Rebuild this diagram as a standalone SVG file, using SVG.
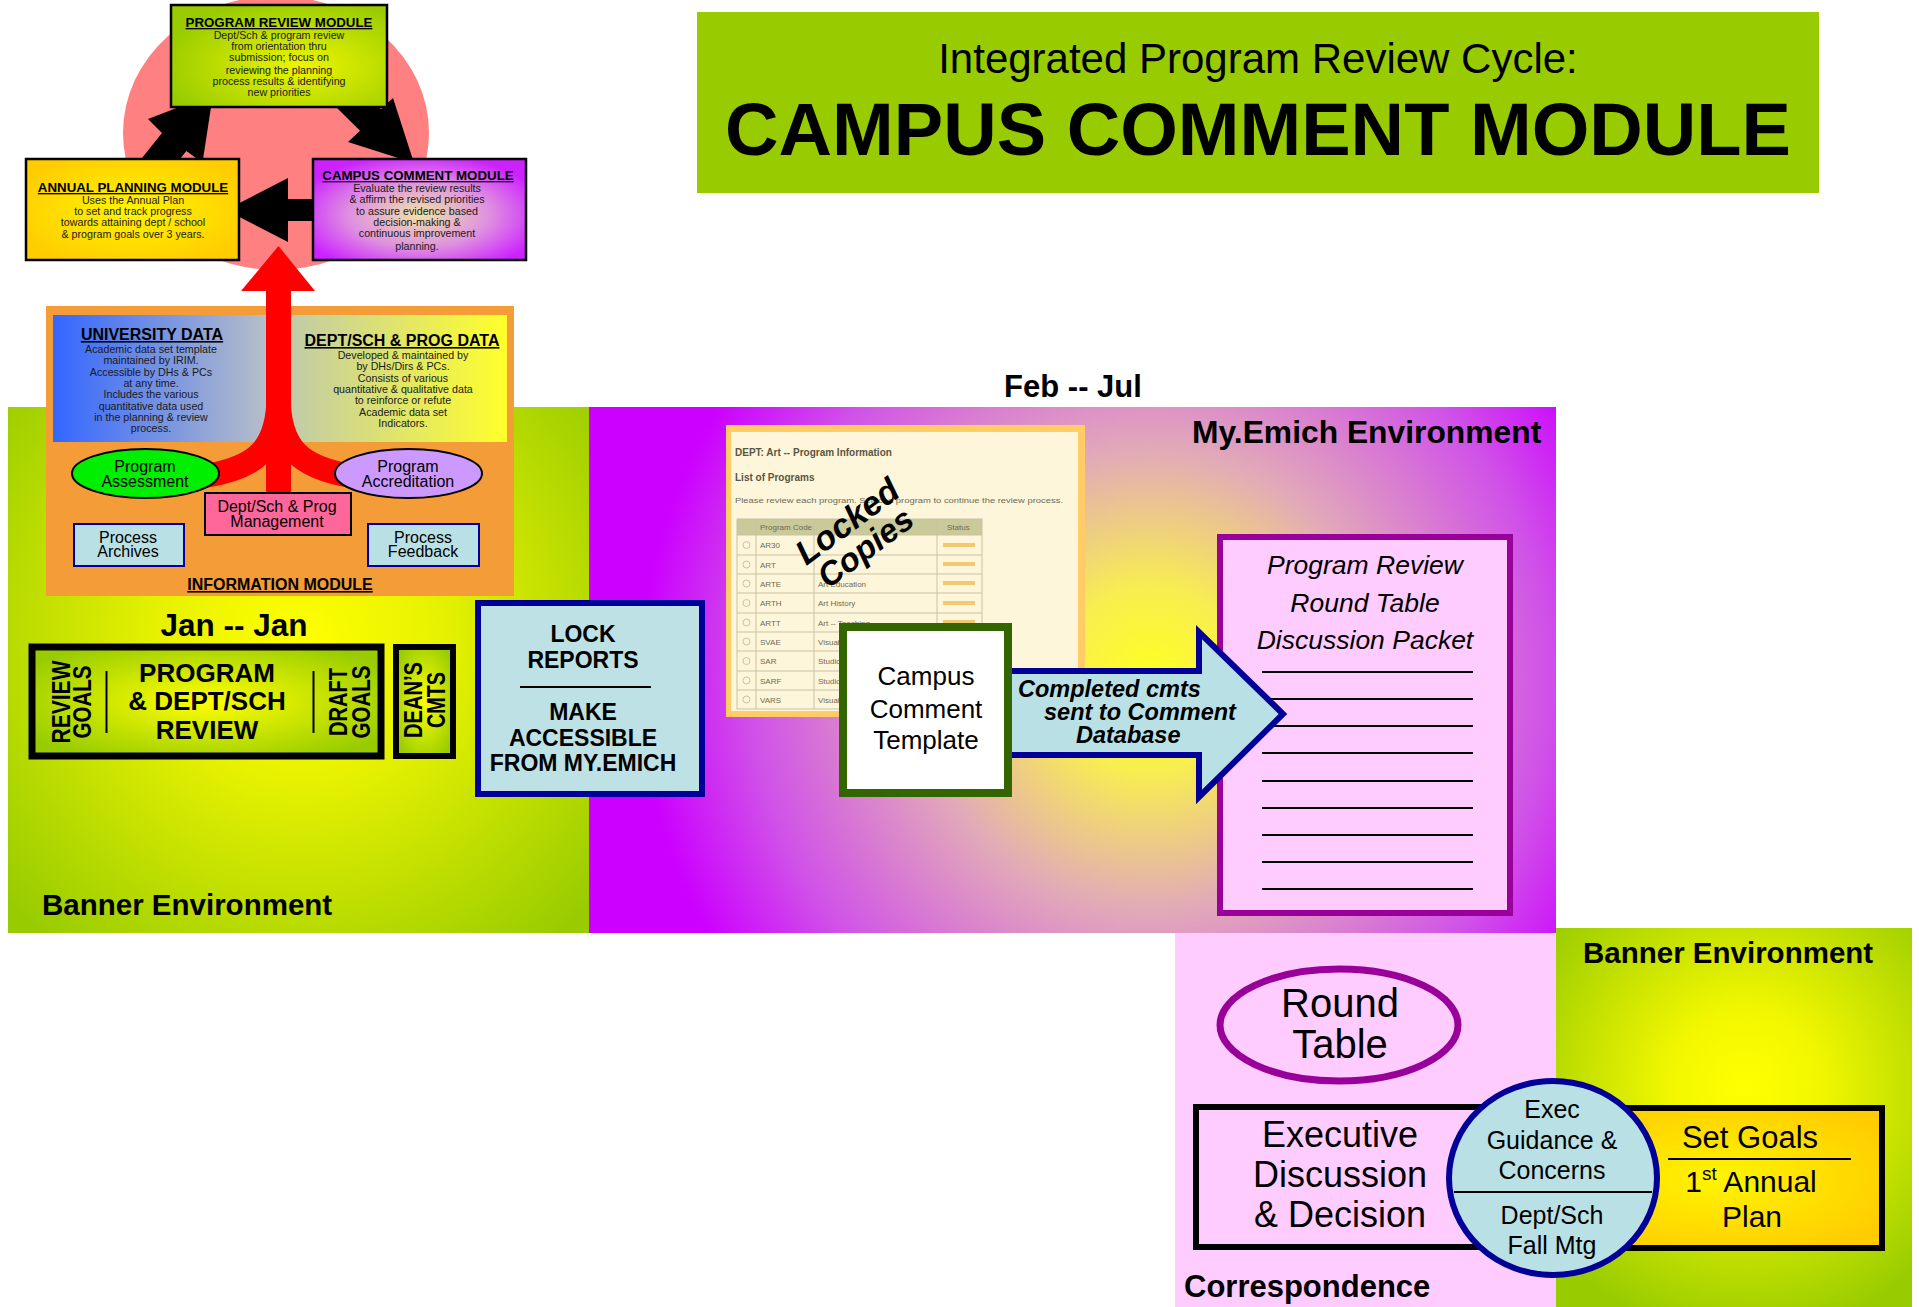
<svg xmlns="http://www.w3.org/2000/svg" width="1919" height="1307" viewBox="0 0 1919 1307">
<style>
  text { font-family: "Liberation Sans", Arial, Helvetica, sans-serif; fill: #000; }
  .b { font-weight: bold; }
  .i { font-style: italic; }
  .c { text-anchor: middle; }
  .mt { font-size: 13.3px; font-weight: bold; text-decoration: underline; text-anchor: middle; }
  .mb { font-size: 10.7px; text-anchor: middle; fill: #1a1a1a; }
  .env { font-size: 29.5px; font-weight: bold; }
  .mod { stroke: #000; stroke-width: 2.5; }
  .cyanbox { fill: #B9E0E4; stroke: #000099; }
  .rule { stroke: #000; stroke-width: 2; }
  .ib { font-size: 16px; text-anchor: middle; }
  .dt { font-size: 16px; font-weight: bold; text-decoration: underline; text-anchor: middle; }
  .big { font-weight: bold; font-size: 26px; text-anchor: middle; }
  .vt { font-weight: bold; font-size: 26px; text-anchor: middle; }
  .lock { font-weight: bold; font-size: 23px; text-anchor: middle; }
  .ss { fill: #6f6a52; font-size: 8px; }
  .ssb { fill: #5a553f; font-size: 10px; font-weight: bold; }
  .grid { stroke: #C9C2A2; stroke-width: 1; fill: none; }
  .blk { fill: #000; }
  .red { fill: #FF0000; }
  .redb { fill: none; stroke: #FF0000; stroke-width: 24; }
  .pk { font-size: 26.5px; font-style: italic; text-anchor: middle; }
  .pkl { stroke: #000; stroke-width: 2; }
  .ex { font-size: 36px; text-anchor: middle; }
  .ec { font-size: 25px; text-anchor: middle; }
  .sg { font-size: 31px; text-anchor: middle; }
  .sg2 { font-size: 30px; text-anchor: middle; }
  .cm { font-size: 23.5px; font-weight: bold; font-style: italic; }
</style>
<defs>
  <radialGradient id="gBannerL" gradientUnits="userSpaceOnUse" cx="300" cy="640" r="390">
    <stop offset="0" stop-color="#FFFF00"/>
    <stop offset="0.35" stop-color="#E8F200"/>
    <stop offset="1" stop-color="#99CC00"/>
  </radialGradient>
  <radialGradient id="gPurple" gradientUnits="userSpaceOnUse" cx="1150" cy="680" r="510">
    <stop offset="0" stop-color="#FFFF20"/>
    <stop offset="0.18" stop-color="#F8EE50"/>
    <stop offset="0.45" stop-color="#E2AAB8"/>
    <stop offset="0.78" stop-color="#D052E8"/>
    <stop offset="1" stop-color="#CC00FF"/>
  </radialGradient>
  <radialGradient id="gBannerR" gradientUnits="userSpaceOnUse" cx="1745" cy="1085" r="250">
    <stop offset="0" stop-color="#FFFF00"/>
    <stop offset="0.3" stop-color="#F2F700"/>
    <stop offset="1" stop-color="#99CC00"/>
  </radialGradient>
  <radialGradient id="gGreenBox" cx="0.5" cy="0.5" r="0.6">
    <stop offset="0" stop-color="#FFFF00"/>
    <stop offset="1" stop-color="#99CC00"/>
  </radialGradient>
  <radialGradient id="gPRBox" cx="0.6" cy="0.6" r="0.65">
    <stop offset="0" stop-color="#EEF500"/>
    <stop offset="1" stop-color="#99CC00"/>
  </radialGradient>
  <radialGradient id="gGold" cx="0.5" cy="0.5" r="0.6">
    <stop offset="0" stop-color="#FFF500"/>
    <stop offset="1" stop-color="#FFCC00"/>
  </radialGradient>
  <radialGradient id="gPurpleBox" cx="0.5" cy="0.55" r="0.6">
    <stop offset="0" stop-color="#F0E2A8"/>
    <stop offset="0.55" stop-color="#DE90E0"/>
    <stop offset="1" stop-color="#CC22FF"/>
  </radialGradient>
  <linearGradient id="gUni" x1="0" y1="0" x2="1" y2="0">
    <stop offset="0" stop-color="#3366FF"/>
    <stop offset="1" stop-color="#B6BEC8"/>
  </linearGradient>
  <linearGradient id="gDept" x1="0" y1="0" x2="1" y2="0">
    <stop offset="0" stop-color="#C2CBA8"/>
    <stop offset="1" stop-color="#FFFF2A"/>
  </linearGradient>
</defs>

<rect width="1919" height="1307" fill="#FFFFFF"/>

<!-- Backgrounds and environments -->
<g id="banner-env-left">
  <rect x="8" y="407" width="581" height="526" fill="url(#gBannerL)"/>
  <text class="env" x="42" y="915">Banner Environment</text>
  <text class="b c" x="234" y="636" font-size="31.5">Jan -- Jan</text>
</g>
<g id="myemich-env">
  <rect x="589" y="407" width="967" height="526" fill="url(#gPurple)"/>
  <text class="b" x="1192" y="443" font-size="31.8">My.Emich Environment</text>
  <text class="b c" x="1073" y="397" font-size="31">Feb -- Jul</text>
</g>
<g id="correspondence-env">
  <rect x="1175" y="933" width="381" height="374" fill="#FFCCFF"/>
  <text class="b" x="1184" y="1297" font-size="31">Correspondence</text>
</g>
<g id="banner-env-right">
  <rect x="1556" y="928" width="356" height="379" fill="url(#gBannerR)"/>
  <text class="env" x="1583" y="963">Banner Environment</text>
</g>

<g id="title">
  <rect x="697" y="12" width="1122" height="181" fill="#99CC00"/>
  <text class="c" x="1258" y="73" font-size="42">Integrated Program Review Cycle:</text>
  <text class="b c" x="1258" y="155" font-size="74" textLength="1066" lengthAdjust="spacingAndGlyphs">CAMPUS COMMENT MODULE</text>
</g>

<g id="cycle-circle">
  <ellipse cx="276" cy="133" rx="153" ry="137" fill="#FF8080"/>
</g>

<!-- Information module container -->
<g id="information-module">
  <rect x="46" y="306" width="468" height="290" fill="#F39C38"/>
  <text class="dt" x="280" y="590">INFORMATION MODULE</text>
</g>
<g id="university-data">
  <rect x="53" y="315" width="213" height="127" fill="url(#gUni)"/>
  <text class="dt" x="152" y="340">UNIVERSITY DATA</text>
  <text class="mb" x="151" y="352.5">Academic data set template</text>
  <text class="mb" x="151" y="364">maintained by IRIM.</text>
  <text class="mb" x="151" y="375.5">Accessible by  DHs &amp; PCs</text>
  <text class="mb" x="151" y="386.5">at any time.</text>
  <text class="mb" x="151" y="398">Includes the various</text>
  <text class="mb" x="151" y="409.5">quantitative data used</text>
  <text class="mb" x="151" y="420.5">in the planning &amp; review</text>
  <text class="mb" x="151" y="432">process.</text>
</g>
<g id="dept-prog-data">
  <rect x="290" y="315" width="217" height="127" fill="url(#gDept)"/>
  <text class="dt" x="402" y="346">DEPT/SCH &amp; PROG DATA</text>
  <text class="mb" x="403" y="359">Developed &amp; maintained by</text>
  <text class="mb" x="403" y="370">by DHs/Dirs &amp; PCs.</text>
  <text class="mb" x="403" y="382">Consists of various</text>
  <text class="mb" x="403" y="393">quantitative &amp; qualitative data</text>
  <text class="mb" x="403" y="404">to reinforce or refute</text>
  <text class="mb" x="403" y="416">Academic data set</text>
  <text class="mb" x="403" y="427">Indicators.</text>
</g>

<!-- Locked copies screenshot -->
<g id="locked-copies">
  <rect x="726" y="425" width="359" height="292" fill="#FFCC66"/>
  <rect x="731" y="432" width="347" height="279" fill="#FDF6DA"/>
  <text class="ssb" x="735" y="456">DEPT: Art -- Program Information</text>
  <text class="ssb" x="735" y="481">List of Programs</text>
  <text class="ss" x="735" y="503" textLength="328" lengthAdjust="spacingAndGlyphs">Please review each program. Select a program to continue the review process.</text>
  <rect x="737" y="519" width="245" height="16" fill="#C9C99A"/>
  <text class="ss" x="760" y="530">Program Code</text>
  <text class="ss" x="947" y="530">Status</text>
  <g class="grid">
    <rect x="737" y="519" width="245" height="190"/>
    <path d="M737 535H982M737 555H982M737 574H982M737 593H982M737 613H982M737 632H982M737 651H982M737 671H982M737 690H982"/>
    <path d="M756 519V709M814 519V709M937 519V709"/>
    <circle cx="746.5" cy="545" r="3.5"/><circle cx="746.5" cy="564.5" r="3.5"/><circle cx="746.5" cy="583.5" r="3.5"/>
    <circle cx="746.5" cy="603" r="3.5"/><circle cx="746.5" cy="622.5" r="3.5"/><circle cx="746.5" cy="641.5" r="3.5"/>
    <circle cx="746.5" cy="661" r="3.5"/><circle cx="746.5" cy="680.5" r="3.5"/><circle cx="746.5" cy="699.5" r="3.5"/>
  </g>
  <g fill="#F2C870">
    <rect x="943" y="543" width="32" height="4"/><rect x="943" y="562" width="32" height="4"/>
    <rect x="943" y="581" width="32" height="4"/><rect x="943" y="601" width="32" height="4"/>
    <rect x="943" y="620" width="32" height="4"/>
  </g>
  <text class="ss" x="760" y="548">AR30</text>
  <text class="ss" x="760" y="567.5">ART</text>
  <text class="ss" x="760" y="586.5">ARTE</text>
  <text class="ss" x="760" y="606">ARTH</text>
  <text class="ss" x="760" y="625.5">ARTT</text>
  <text class="ss" x="760" y="644.5">SVAE</text>
  <text class="ss" x="760" y="664">SAR</text>
  <text class="ss" x="760" y="683.5">SARF</text>
  <text class="ss" x="760" y="702.5">VARS</text>
  <text class="ss" x="818" y="586.5">Art Education</text>
  <text class="ss" x="818" y="606">Art History</text>
  <text class="ss" x="818" y="625.5">Art -- Teaching</text>
  <text class="ss" x="818" y="644.5">Visual</text>
  <text class="ss" x="818" y="664">Studio</text>
  <text class="ss" x="818" y="683.5">Studio</text>
  <text class="ss" x="818" y="702.5">Visual</text>
  <text class="b i c" font-size="34" transform="translate(847,521) rotate(-36.5)" y="12">Locked</text>
  <text class="b i c" font-size="33" transform="translate(865,547) rotate(-36.5)" y="12">Copies</text>
</g>

<!-- Discussion packet -->
<g id="discussion-packet">
  <rect x="1220" y="537" width="290" height="376" fill="#FFCCFF" stroke="#990099" stroke-width="6"/>
  <text class="pk" x="1365" y="574">Program Review</text>
  <text class="pk" x="1365" y="612">Round Table</text>
  <text class="pk" x="1365" y="649">Discussion Packet</text>
  <path class="pkl" d="M1262 672H1473M1262 699H1473M1262 726H1473M1262 753H1473M1262 781H1473M1262 808H1473M1262 835H1473M1262 862H1473M1262 889H1473"/>
</g>

<!-- Connectors -->
<g id="connectors">
  <polygon id="arrow-annual-to-review" class="blk" points="213,94 202.5,162.7 186.4,150.9 149.3,196.8 125.9,178 162,133 148,119"/>
  <polygon id="arrow-review-to-campus" class="blk" points="414,163 393,98 381,109.3 332.1,60.9 311,82.3 360,130.7 348,142"/>
  <polygon id="arrow-campus-to-annual" class="blk" points="226,210 288,178 288,199 320,199 320,221 288,221 288,242"/>
  <g id="arrow-information-up">
    <path class="redb" d="M278.5 395 C278.5 450 255 468 205 476"/>
    <path class="redb" d="M278.5 395 C278.5 450 302 468 352 476"/>
    <rect class="red" x="266" y="286" width="25" height="210"/>
    <polygon class="red" points="278.5,246 315,291 241,291"/>
  </g>
  <g id="arrow-completed-cmts">
    <polygon points="1000,671 1199,671 1199,632 1283,714 1199,797 1199,755 1000,755" fill="#B9E0E4" stroke="#000099" stroke-width="6" stroke-linejoin="miter"/>
    <text class="cm" x="1018" y="697">Completed cmts</text>
    <text class="cm" x="1044" y="719.5">sent to Comment</text>
    <text class="cm" x="1076" y="743">Database</text>
  </g>
</g>

<!-- Cycle module nodes -->
<g id="program-review-module">
  <rect class="mod" x="171" y="5" width="216" height="102" fill="url(#gPRBox)"/>
  <text class="mt" x="279" y="27">PROGRAM REVIEW MODULE</text>
  <text class="mb" x="279" y="39">Dept/Sch &amp; program review</text>
  <text class="mb" x="279" y="50">from orientation thru</text>
  <text class="mb" x="279" y="61">submission; focus on</text>
  <text class="mb" x="279" y="73.5">reviewing the planning</text>
  <text class="mb" x="279" y="84.5">process results &amp; identifying</text>
  <text class="mb" x="279" y="96">new priorities</text>
</g>
<g id="annual-planning-module">
  <rect class="mod" x="26" y="159" width="213" height="101" fill="url(#gGold)"/>
  <text class="mt" x="133" y="192">ANNUAL PLANNING MODULE</text>
  <text class="mb" x="133" y="204">Uses the Annual Plan</text>
  <text class="mb" x="133" y="215">to set and track progress</text>
  <text class="mb" x="133" y="226">towards attaining dept / school</text>
  <text class="mb" x="133" y="238">&amp;  program goals over 3 years.</text>
</g>
<g id="campus-comment-module">
  <rect class="mod" x="313" y="159" width="213" height="101" fill="url(#gPurpleBox)"/>
  <text class="mt" x="418" y="180">CAMPUS COMMENT MODULE</text>
  <text class="mb" x="417" y="192">Evaluate the review  results</text>
  <text class="mb" x="417" y="203">&amp; affirm the revised priorities</text>
  <text class="mb" x="417" y="215">to assure evidence based</text>
  <text class="mb" x="417" y="226">decision-making &amp;</text>
  <text class="mb" x="417" y="237">continuous improvement</text>
  <text class="mb" x="417" y="249.5">planning.</text>
</g>

<!-- Information module items -->
<g id="program-assessment">
  <ellipse cx="145.5" cy="473.5" rx="73.5" ry="24.5" fill="#00EE00" stroke="#000" stroke-width="2"/>
  <text class="ib" x="145" y="472">Program</text>
  <text class="ib" x="145" y="487">Assessment</text>
</g>
<g id="program-accreditation">
  <ellipse cx="408.5" cy="473.5" rx="73.5" ry="24.5" fill="#CC99FF" stroke="#000" stroke-width="2"/>
  <text class="ib" x="408" y="472">Program</text>
  <text class="ib" x="408" y="487">Accreditation</text>
</g>
<g id="dept-prog-management">
  <rect x="205" y="493" width="146" height="42" fill="#FF6699" stroke="#000" stroke-width="2"/>
  <text class="ib" x="277" y="512">Dept/Sch &amp; Prog</text>
  <text class="ib" x="277" y="527">Management</text>
</g>
<g id="process-archives">
  <rect class="cyanbox" x="74" y="524" width="110" height="42" stroke-width="2"/>
  <text class="ib" x="128" y="542.5">Process</text>
  <text class="ib" x="128" y="557">Archives</text>
</g>
<g id="process-feedback">
  <rect class="cyanbox" x="368" y="524" width="111" height="42" stroke-width="2"/>
  <text class="ib" x="423" y="542.5">Process</text>
  <text class="ib" x="423" y="557">Feedback</text>
</g>

<!-- Banner review nodes -->
<g id="program-dept-review">
  <rect x="32" y="647" width="349" height="109" fill="url(#gGreenBox)" stroke="#000" stroke-width="7"/>
  <text class="vt" transform="translate(70,702) rotate(-90)" textLength="83" lengthAdjust="spacingAndGlyphs">REVIEW</text>
  <text class="vt" transform="translate(91,702) rotate(-90)" textLength="73" lengthAdjust="spacingAndGlyphs">GOALS</text>
  <path class="rule" d="M106.5 671V733M313.5 671V733"/>
  <text class="big" x="207" y="682">PROGRAM</text>
  <text class="big" x="207" y="710">&amp; DEPT/SCH</text>
  <text class="big" x="207" y="739">REVIEW</text>
  <text class="vt" transform="translate(347,702) rotate(-90)" textLength="68" lengthAdjust="spacingAndGlyphs">DRAFT</text>
  <text class="vt" transform="translate(370,702) rotate(-90)" textLength="73" lengthAdjust="spacingAndGlyphs">GOALS</text>
</g>
<g id="deans-comments">
  <rect x="396" y="647" width="57" height="109" fill="url(#gGreenBox)" stroke="#000" stroke-width="6"/>
  <text class="vt" font-size="25" transform="translate(422,700) rotate(-90)" textLength="76" lengthAdjust="spacingAndGlyphs">DEAN’S</text>
  <text class="vt" font-size="25" transform="translate(445,700) rotate(-90)" textLength="56" lengthAdjust="spacingAndGlyphs">CMTS</text>
</g>
<g id="lock-reports">
  <rect x="478" y="603" width="224" height="191" fill="#BDE1E4" stroke="#000099" stroke-width="6"/>
  <text class="lock" x="583" y="642">LOCK</text>
  <text class="lock" x="583" y="668">REPORTS</text>
  <path class="rule" d="M520 687H651"/>
  <text class="lock" x="583" y="720">MAKE</text>
  <text class="lock" x="583" y="746">ACCESSIBLE</text>
  <text class="lock" x="583" y="771">FROM MY.EMICH</text>
</g>

<g id="campus-comment-template">
  <rect x="843" y="627" width="165" height="166" fill="#FFFFFF" stroke="#336600" stroke-width="8"/>
  <text class="c" x="926" y="685" font-size="26">Campus</text>
  <text class="c" x="926" y="718" font-size="26">Comment</text>
  <text class="c" x="926" y="749" font-size="26">Template</text>
</g>

<!-- Bottom right nodes -->
<g id="round-table">
  <ellipse cx="1339" cy="1025" rx="119" ry="56" fill="#FFCCFF" stroke="#990099" stroke-width="7"/>
  <text class="c" x="1340" y="1017" font-size="40">Round</text>
  <text class="c" x="1340" y="1058" font-size="40">Table</text>
</g>
<g id="executive-discussion">
  <rect x="1196" y="1107" width="364" height="140" fill="#FFCCFF" stroke="#000" stroke-width="6"/>
  <text class="ex" x="1340" y="1147">Executive</text>
  <text class="ex" x="1340" y="1187">Discussion</text>
  <text class="ex" x="1340" y="1227">&amp; Decision</text>
</g>
<g id="set-goals">
  <rect x="1560" y="1108" width="322" height="140" fill="url(#gGold)" stroke="#000" stroke-width="6"/>
  <text class="sg" x="1750" y="1148">Set Goals</text>
  <path class="rule" d="M1668 1159H1851"/>
  <text class="sg2" x="1751" y="1192">1<tspan font-size="19" dy="-12">st</tspan><tspan dy="12"> Annual</tspan></text>
  <text class="sg2" x="1752" y="1227">Plan</text>
</g>
<g id="exec-guidance">
  <ellipse cx="1553" cy="1178" rx="104" ry="97" fill="#B9E0E4" stroke="#000099" stroke-width="6"/>
  <path class="rule" d="M1454 1192H1652"/>
  <text class="ec" x="1552" y="1118">Exec</text>
  <text class="ec" x="1552" y="1149">Guidance &amp;</text>
  <text class="ec" x="1552" y="1179">Concerns</text>
  <text class="ec" x="1552" y="1224">Dept/Sch</text>
  <text class="ec" x="1552" y="1254">Fall Mtg</text>
</g>
</svg>
